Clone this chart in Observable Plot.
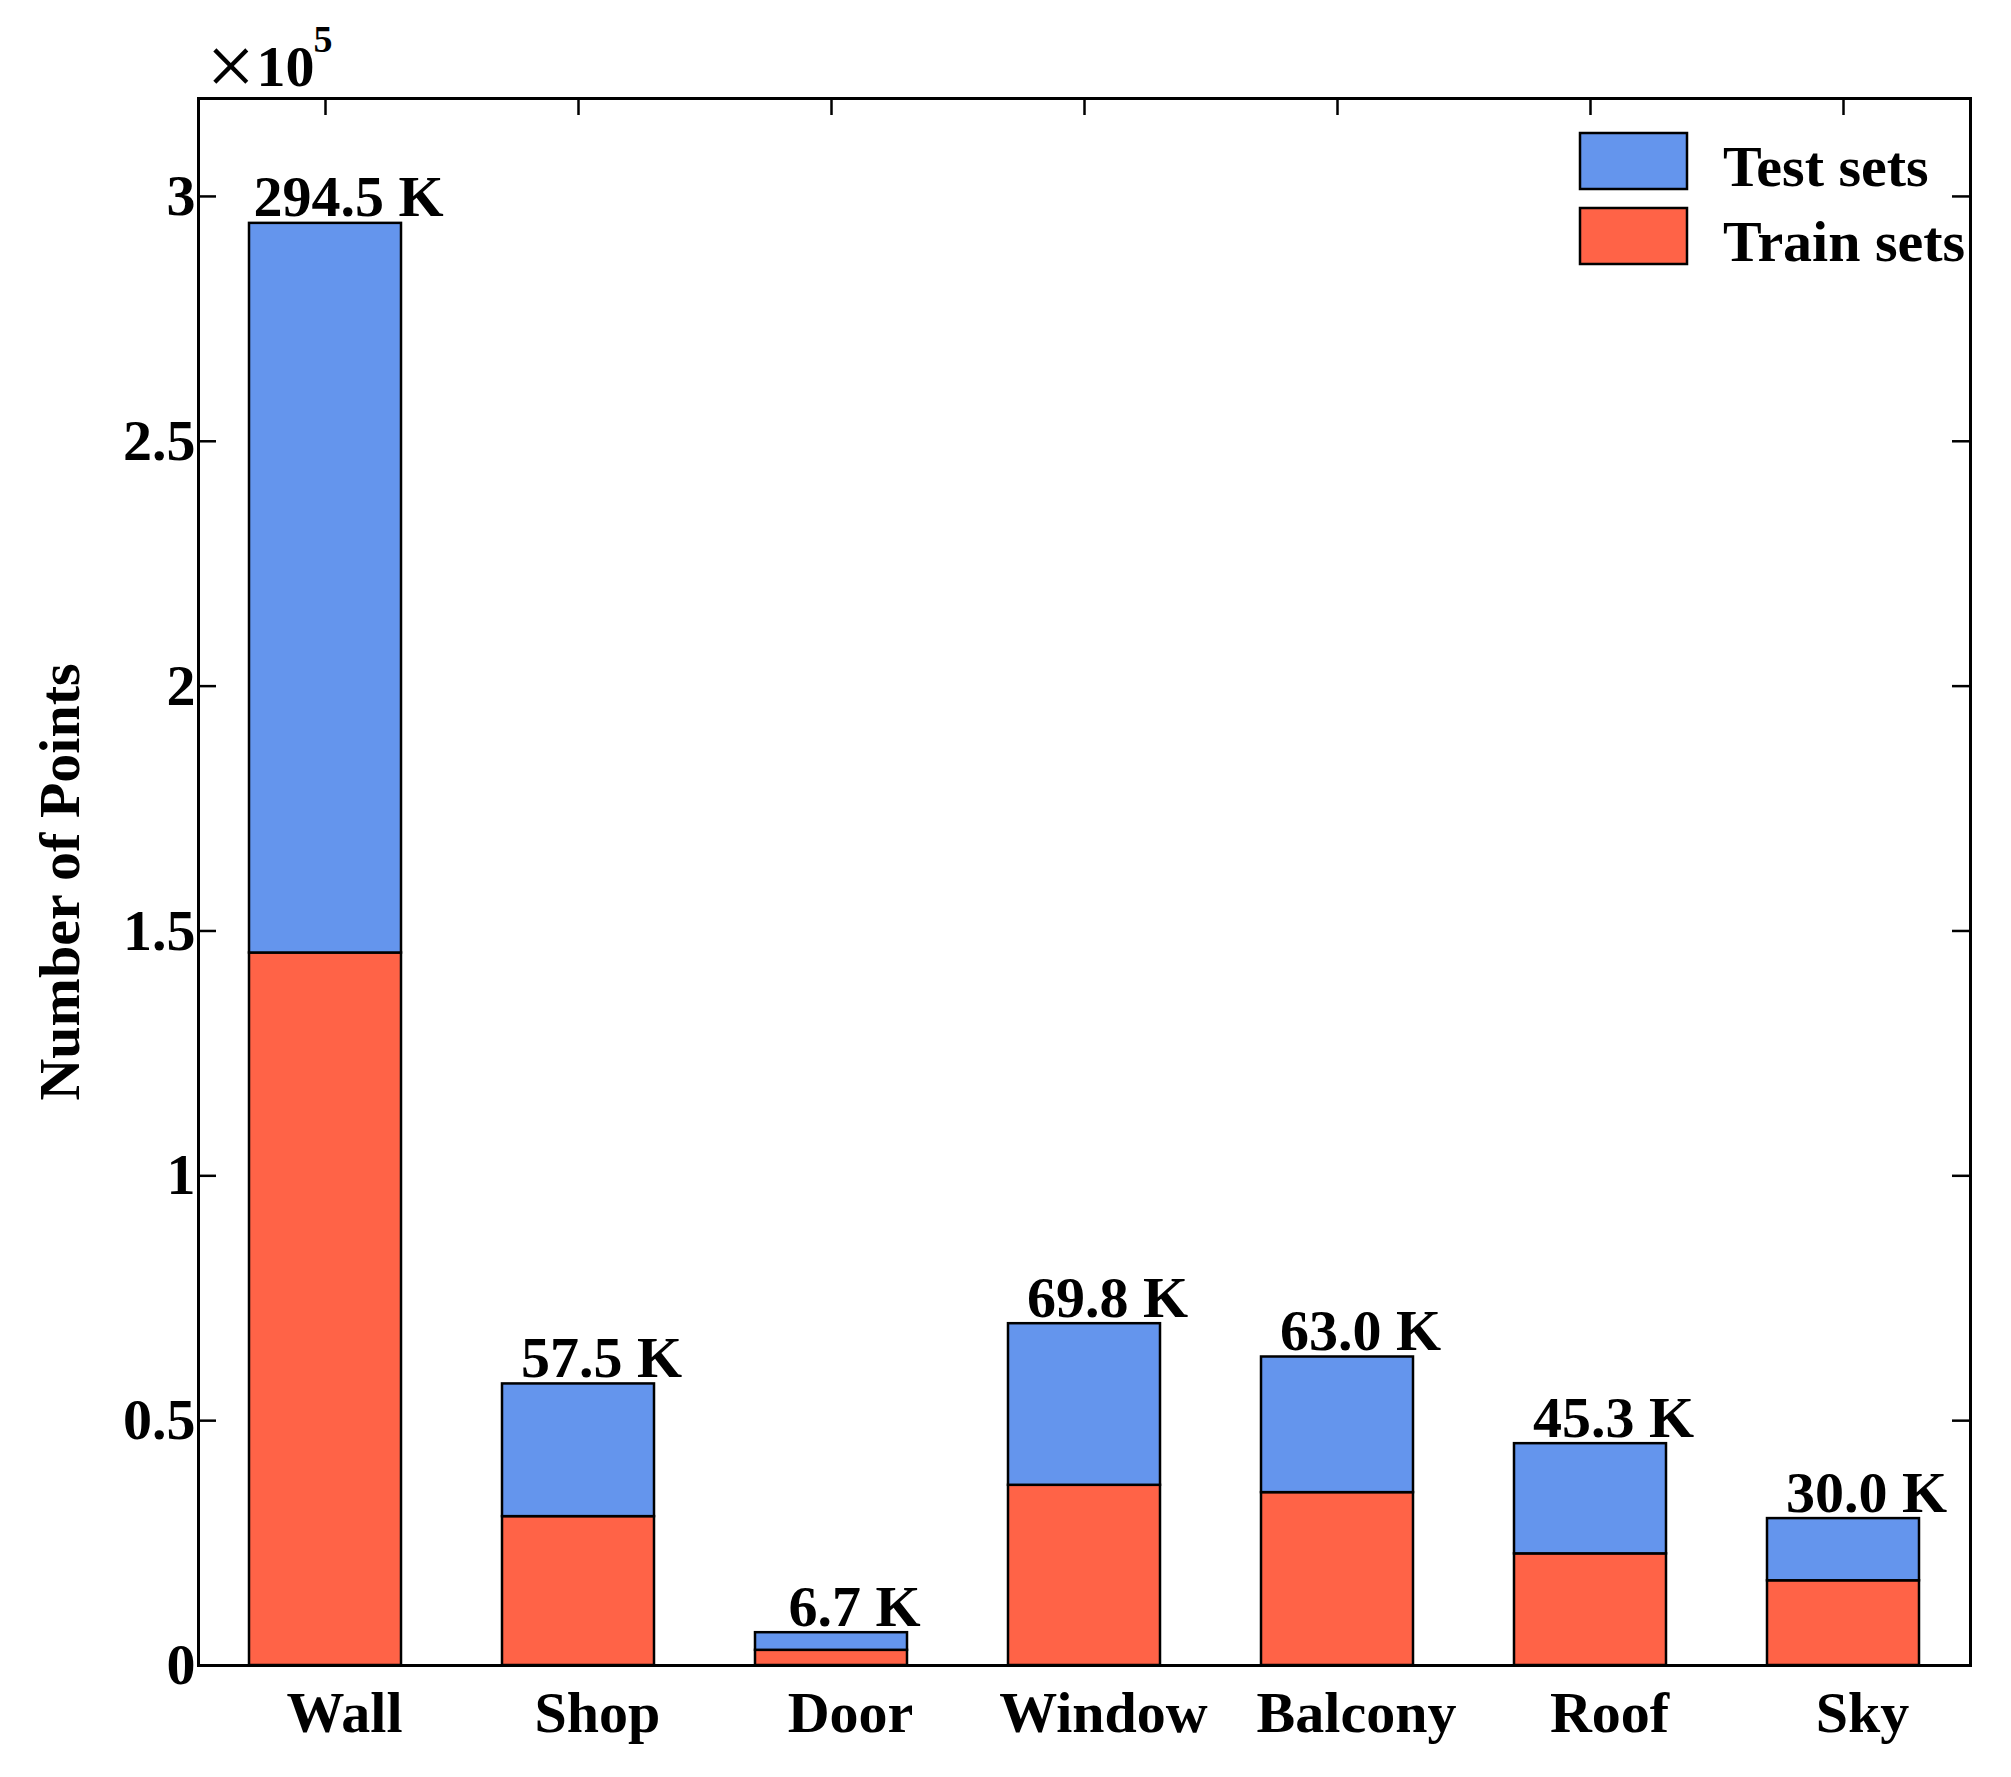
<!DOCTYPE html>
<html>
<head>
<meta charset="utf-8">
<script src="https://cdn.jsdelivr.net/npm/d3@7"></script>
<script src="https://cdn.jsdelivr.net/npm/@observablehq/plot@0.6"></script>
<style>
  html, body { margin: 0; padding: 0; background: #fff; }
  #chart svg { display: block; }
</style>
</head>
<body>
<div id="chart"></div>
<script>
// ---- data (thousands of points) ----
const categories = ["Wall", "Shop", "Door", "Window", "Balcony", "Roof", "Sky"];
const totalK = [294.5, 57.5, 6.7, 69.8, 63.0, 45.3, 30.0];
const trainK = [145.5, 30.4, 3.1, 36.8, 35.3, 22.8, 17.3];
const testK  = [149.0, 27.1, 3.6, 33.0, 27.7, 22.5, 12.7];
const seriesNames = ["Test sets", "Train sets"];
const seriesColors = ["#6495ED", "#FF6347"];
const yTickValues = [0, 50000, 100000, 150000, 200000, 250000, 300000];
const yTickLabels = ["0", "0.5", "1", "1.5", "2", "2.5", "3"];

// ---- tables built from the arrays ----
const rows = [];
categories.forEach((c, i) => {
  rows.push({category: c, set: "Train sets", value: trainK[i] * 1000});
  rows.push({category: c, set: "Test sets", value: testK[i] * 1000});
});
const totals = categories.map((c, i) => ({category: c, total: totalK[i] * 1000, label: totalK[i].toFixed(1) + " K"}));

const W = 2011, H = 1777, ML = 198, MR = 41, MT = 98, MB = 112;
const plotW = W - ML - MR, plotH = H - MT - MB;
const font = "'Liberation Serif', 'Times New Roman', serif";

const chart = Plot.plot({
  width: W,
  height: H,
  marginLeft: ML,
  marginRight: MR,
  marginTop: MT,
  marginBottom: MB,
  style: {fontFamily: font, fontWeight: "bold", fontSize: "58px", background: "white", color: "black", overflow: "visible"},
  x: {domain: categories, paddingInner: 0.4, paddingOuter: 0.2, label: null},
  y: {domain: [0, 320000], label: null},
  color: {domain: seriesNames, range: seriesColors},
  marks: [
    Plot.barY(rows, {x: "category", y: "value", fill: "set", stroke: "black", strokeWidth: 2.5}),
    Plot.axisX({anchor: "bottom", tickSize: 0, tickPadding: 25, dx: 19, label: null}),
    Plot.axisY(yTickValues, {anchor: "left", tickSize: 0, tickPadding: 3, label: null,
      tickFormat: d => yTickLabels[yTickValues.indexOf(d)]}),
    Plot.tickY(yTickValues, {y: d => d, insetRight: plotW - 18, strokeWidth: 2.5, stroke: "black"}),
    Plot.tickY(yTickValues, {y: d => d, insetLeft: plotW - 18, strokeWidth: 2.5, stroke: "black"}),
    Plot.tickX(categories, {x: d => d, insetBottom: plotH - 17, strokeWidth: 2.5, stroke: "black"}),
    Plot.text(totals, {x: "category", y: "total", text: "label", dx: 23, dy: -7, lineAnchor: "bottom", fill: "black"}),
    Plot.text(["Number of Points"], {frameAnchor: "left", text: d => d, dx: -120, rotate: -90, lineAnchor: "bottom", textAnchor: "middle", fill: "black"}),
    Plot.text(["\u00d7"], {frameAnchor: "top-left", text: d => d, dx: 8, dy: -4, lineAnchor: "bottom", textAnchor: "start", fontWeight: "normal", fontSize: 86, fill: "black"}),
    Plot.text(["10"], {frameAnchor: "top-left", text: d => d, dx: 58, dy: -13, lineAnchor: "bottom", textAnchor: "start", fill: "black"}),
    Plot.text(["5"], {frameAnchor: "top-left", text: d => d, dx: 115, dy: -47, lineAnchor: "bottom", textAnchor: "start", fontSize: 38, fill: "black"}),
    Plot.frame({stroke: "black", strokeWidth: 3})
  ]
});

// ---- legend (inside the frame, top right) ----
const color = chart.scale("color");
const svg = d3.select(chart);
const lg = svg.append("g")
  .attr("font-family", font).attr("font-weight", "bold").attr("font-size", 58)
  .attr("text-anchor", "start");
const swX = W - MR - 390, swW = 107, swH = 56;
seriesNames.forEach((name, i) => {
  const top = MT + 35 + i * 75;
  lg.append("rect").attr("x", swX).attr("y", top).attr("width", swW).attr("height", swH)
    .attr("fill", color.apply(name)).attr("stroke", "black").attr("stroke-width", 2.5);
  lg.append("text").attr("x", swX + swW + 36).attr("y", top + 53).attr("fill", "black").text(name);
});

document.getElementById("chart").appendChild(chart);
</script>
</body>
</html>
